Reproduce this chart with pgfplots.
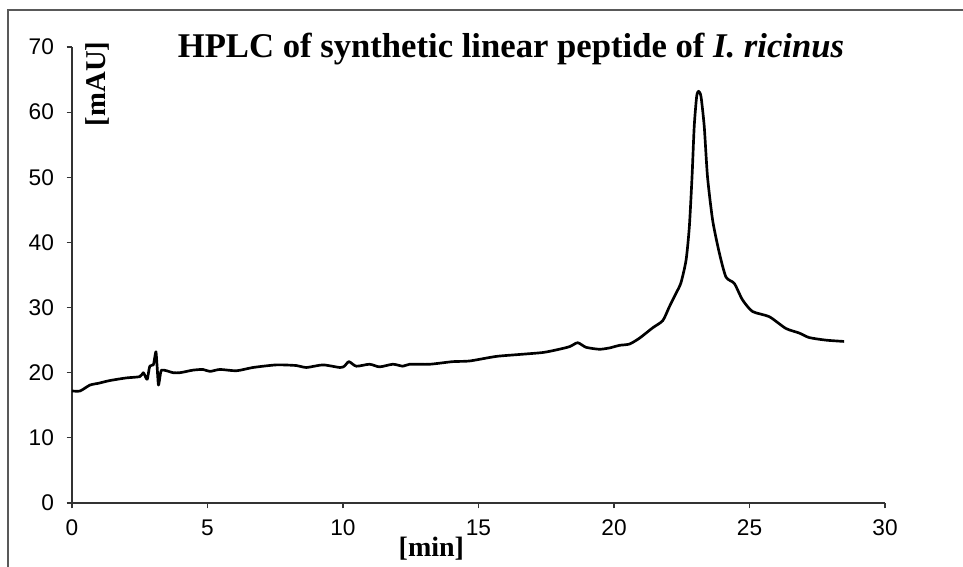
\documentclass[border=0pt]{standalone}
\usepackage{fontspec}
\setmainfont{Liberation Serif}
\setsansfont{Liberation Sans}
\usepackage{pgfplots}
\pgfplotsset{compat=1.18}
\begin{document}
\begin{tikzpicture}
\useasboundingbox (-54pt,-48pt) rectangle (668.25pt,377.25pt);
\draw[black!65, line width=0.8pt] (-48pt,-80pt) -- (-48pt,369.75pt) -- (720pt,369.75pt);
\begin{axis}[
  at={(0,0)}, anchor=south west,
  scale only axis, width=609.75pt, height=342pt,
  xmin=0, xmax=30, ymin=0, ymax=70,
  axis x line*=bottom, axis y line*=left,
  axis line style={black!80, line width=0.8pt},
  xtick={0,5,...,30}, ytick={0,10,...,70},
  tick align=outside, major tick length=4pt,
  tick style={black!80, line width=0.8pt},
  ticklabel style={font=\sffamily\fontsize{17}{19}\selectfont},
  /pgf/number format/assume math mode=true,
  xticklabel style={yshift=-5pt},
  yticklabel style={xshift=-6pt},
  clip=false,
]
\addplot[black, line width=2.0pt, smooth, tension=0.4, line join=round] coordinates {
(0,17.2) (0.3,17.2) (0.66,18.1) (1.0,18.4) (1.4,18.8) (2.0,19.2) (2.5,19.4)
(2.63,20.0) (2.72,19.3) (2.78,19.0) (2.87,21.0) (3.0,21.2) (3.06,22.5) (3.1,23.2)
(3.14,21.0) (3.19,18.1) (3.25,19.5) (3.3,20.4) (3.49,20.3) (3.73,20.0) (3.98,20.0)
(4.23,20.2) (4.47,20.4) (4.83,20.5) (5.09,20.2) (5.46,20.5) (6.07,20.3) (6.68,20.8)
(7.54,21.2) (8.28,21.1) (8.65,20.8) (9.26,21.2) (9.88,20.8) (10.05,21.0) (10.22,21.7)
(10.49,21.0) (10.98,21.3) (11.35,20.9) (11.84,21.3) (12.21,21.0) (12.46,21.3)
(13.2,21.3) (14.05,21.7) (14.67,21.8) (15.65,22.5) (16.51,22.8) (17.37,23.1)
(17.87,23.5) (18.36,24.0) (18.66,24.6) (18.97,23.9) (19.46,23.6) (19.83,23.8)
(20.2,24.2) (20.57,24.4) (20.94,25.3) (21.43,26.9) (21.8,28.0) (22.04,30.1)
(22.29,32.2) (22.47,33.8) (22.66,37.3) (22.78,42.4) (22.88,50.1) (22.96,57.8)
(23.05,62.4) (23.12,63.2) (23.21,62.4) (23.33,57.8) (23.45,50.1) (23.64,43.4)
(23.88,38.5) (24.13,34.7) (24.44,33.7) (24.74,31.2) (25.11,29.4) (25.73,28.6)
(26.34,26.8) (26.83,26.1) (27.2,25.4) (27.82,25.0) (28.49,24.8)
};
\node[anchor=base, font=\bfseries\fontsize{26}{28}\selectfont] at (rel axis cs:0.54,0.978) {HPLC of synthetic linear peptide of \textit{I. ricinus}};
\node[rotate=90, font=\bfseries\fontsize{21.5}{23}\selectfont] at (rel axis cs:0.031,0.919) {[mAU]};
\node[font=\bfseries\fontsize{21}{23}\selectfont] at (rel axis cs:0.442,-0.1) {[min]};
\end{axis}
\end{tikzpicture}
\end{document}
